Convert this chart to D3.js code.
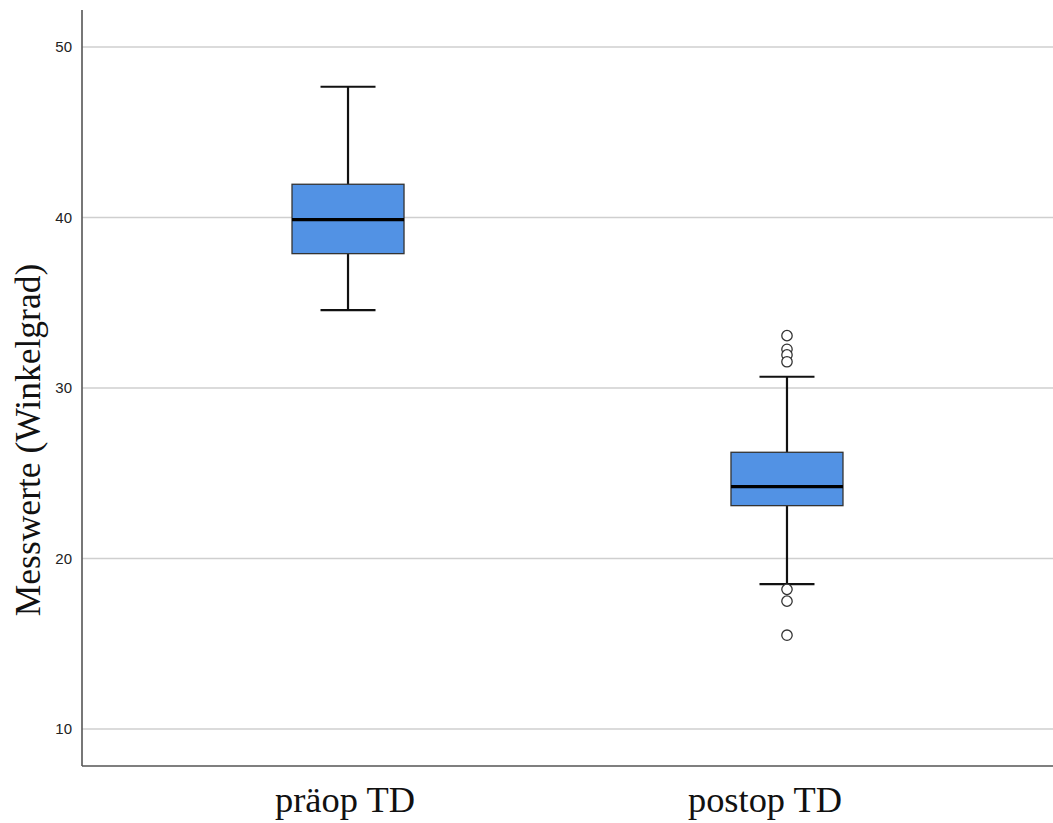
<!DOCTYPE html>
<html>
<head>
<meta charset="utf-8">
<script src="https://cdn.jsdelivr.net/npm/d3@7"></script>
<style>
  html, body { margin: 0; padding: 0; background: #fff; }
  svg { display: block; }
</style>
</head>
<body>
<svg id="chart" width="1053" height="823"></svg>
<script>
// Boxplot summary per group (angle in degrees)
const categories = ["präop TD", "postop TD"];
const whiskerLow  = [34.57, 18.5];
const q1          = [37.88, 23.1];
const medians     = [39.87, 24.21];
const q3          = [41.95, 26.23];
const whiskerHigh = [47.67, 30.66];
const outliers    = [[], [33.07, 32.27, 31.94, 31.54, 18.19, 17.5, 15.5]];
const yTicks      = [10, 20, 30, 40, 50];
const yTitle      = "Messwerte (Winkelgrad)";

const svg = d3.select("#chart");
const plot = { left: 82, right: 1053, top: 10, bottom: 766 };

const y = d3.scaleLinear().domain([10, 50]).range([729, 47]);
const x = d3.scalePoint().domain(categories).range([plot.left, plot.right]).padding(0.606);
const boxW = 112, capW = 55;
// small horizontal nudges of the category labels and their set widths
const labelShift = [-3, -22];
const labelWidth = [140, 154];

// horizontal gridlines
svg.append("g").selectAll("line").data(yTicks).join("line")
  .attr("x1", plot.left).attr("x2", plot.right)
  .attr("y1", d => y(d)).attr("y2", d => y(d))
  .attr("stroke", "#cfcfcf").attr("stroke-width", 1.6);

// y axis
const yAxis = svg.append("g").attr("transform", `translate(${plot.left},0)`)
  .call(d3.axisLeft(y).tickValues(yTicks).tickSize(0).tickPadding(10));
yAxis.select(".domain").remove();
yAxis.selectAll("text").attr("font-family", "Liberation Sans, Arial, sans-serif")
  .attr("font-size", 15).attr("fill", "#222");

// axis lines
svg.append("line").attr("x1", plot.left).attr("x2", plot.left)
  .attr("y1", plot.top).attr("y2", plot.bottom)
  .attr("stroke", "#555").attr("stroke-width", 1.6);
svg.append("line").attr("x1", plot.left).attr("x2", plot.right)
  .attr("y1", plot.bottom).attr("y2", plot.bottom)
  .attr("stroke", "#555").attr("stroke-width", 1.6);

// x axis labels
svg.append("g").selectAll("text").data(categories).join("text")
  .attr("x", (d, i) => x(d) + labelShift[i])
  .attr("y", 812)
  .attr("text-anchor", "middle")
  .attr("font-family", "Liberation Serif, Times New Roman, serif")
  .attr("font-size", 35).attr("fill", "#111")
  .attr("textLength", (d, i) => labelWidth[i])
  .attr("lengthAdjust", "spacingAndGlyphs")
  .text(d => d);

// y axis title
svg.append("text")
  .attr("transform", `translate(40,440) rotate(-90)`)
  .attr("text-anchor", "middle")
  .attr("font-family", "Liberation Serif, Times New Roman, serif")
  .attr("font-size", 35.5).attr("fill", "#111")
  .text(yTitle);

// boxes
const groups = svg.append("g").selectAll("g").data(categories).join("g");
groups.each(function(c, i) {
  const g = d3.select(this);
  const cx = x(c);
  // whisker stems
  g.append("line").attr("x1", cx).attr("x2", cx)
    .attr("y1", y(whiskerHigh[i])).attr("y2", y(q3[i]))
    .attr("stroke", "#111").attr("stroke-width", 2.2);
  g.append("line").attr("x1", cx).attr("x2", cx)
    .attr("y1", y(q1[i])).attr("y2", y(whiskerLow[i]))
    .attr("stroke", "#111").attr("stroke-width", 2.2);
  // caps
  [whiskerHigh[i], whiskerLow[i]].forEach(v => {
    g.append("line").attr("x1", cx - capW / 2).attr("x2", cx + capW / 2)
      .attr("y1", y(v)).attr("y2", y(v))
      .attr("stroke", "#111").attr("stroke-width", 2.2);
  });
  // box
  g.append("rect").attr("x", cx - boxW / 2).attr("width", boxW)
    .attr("y", y(q3[i])).attr("height", y(q1[i]) - y(q3[i]))
    .attr("fill", "#5292e4").attr("stroke", "#333").attr("stroke-width", 1.3);
  // median
  g.append("line").attr("x1", cx - boxW / 2).attr("x2", cx + boxW / 2)
    .attr("y1", y(medians[i])).attr("y2", y(medians[i]))
    .attr("stroke", "#000").attr("stroke-width", 3.2);
  // outliers
  g.selectAll("circle").data(outliers[i]).join("circle")
    .attr("cx", cx).attr("cy", d => y(d)).attr("r", 5.2)
    .attr("fill", "#fff").attr("stroke", "#333").attr("stroke-width", 1.3);
});
</script>
</body>
</html>
